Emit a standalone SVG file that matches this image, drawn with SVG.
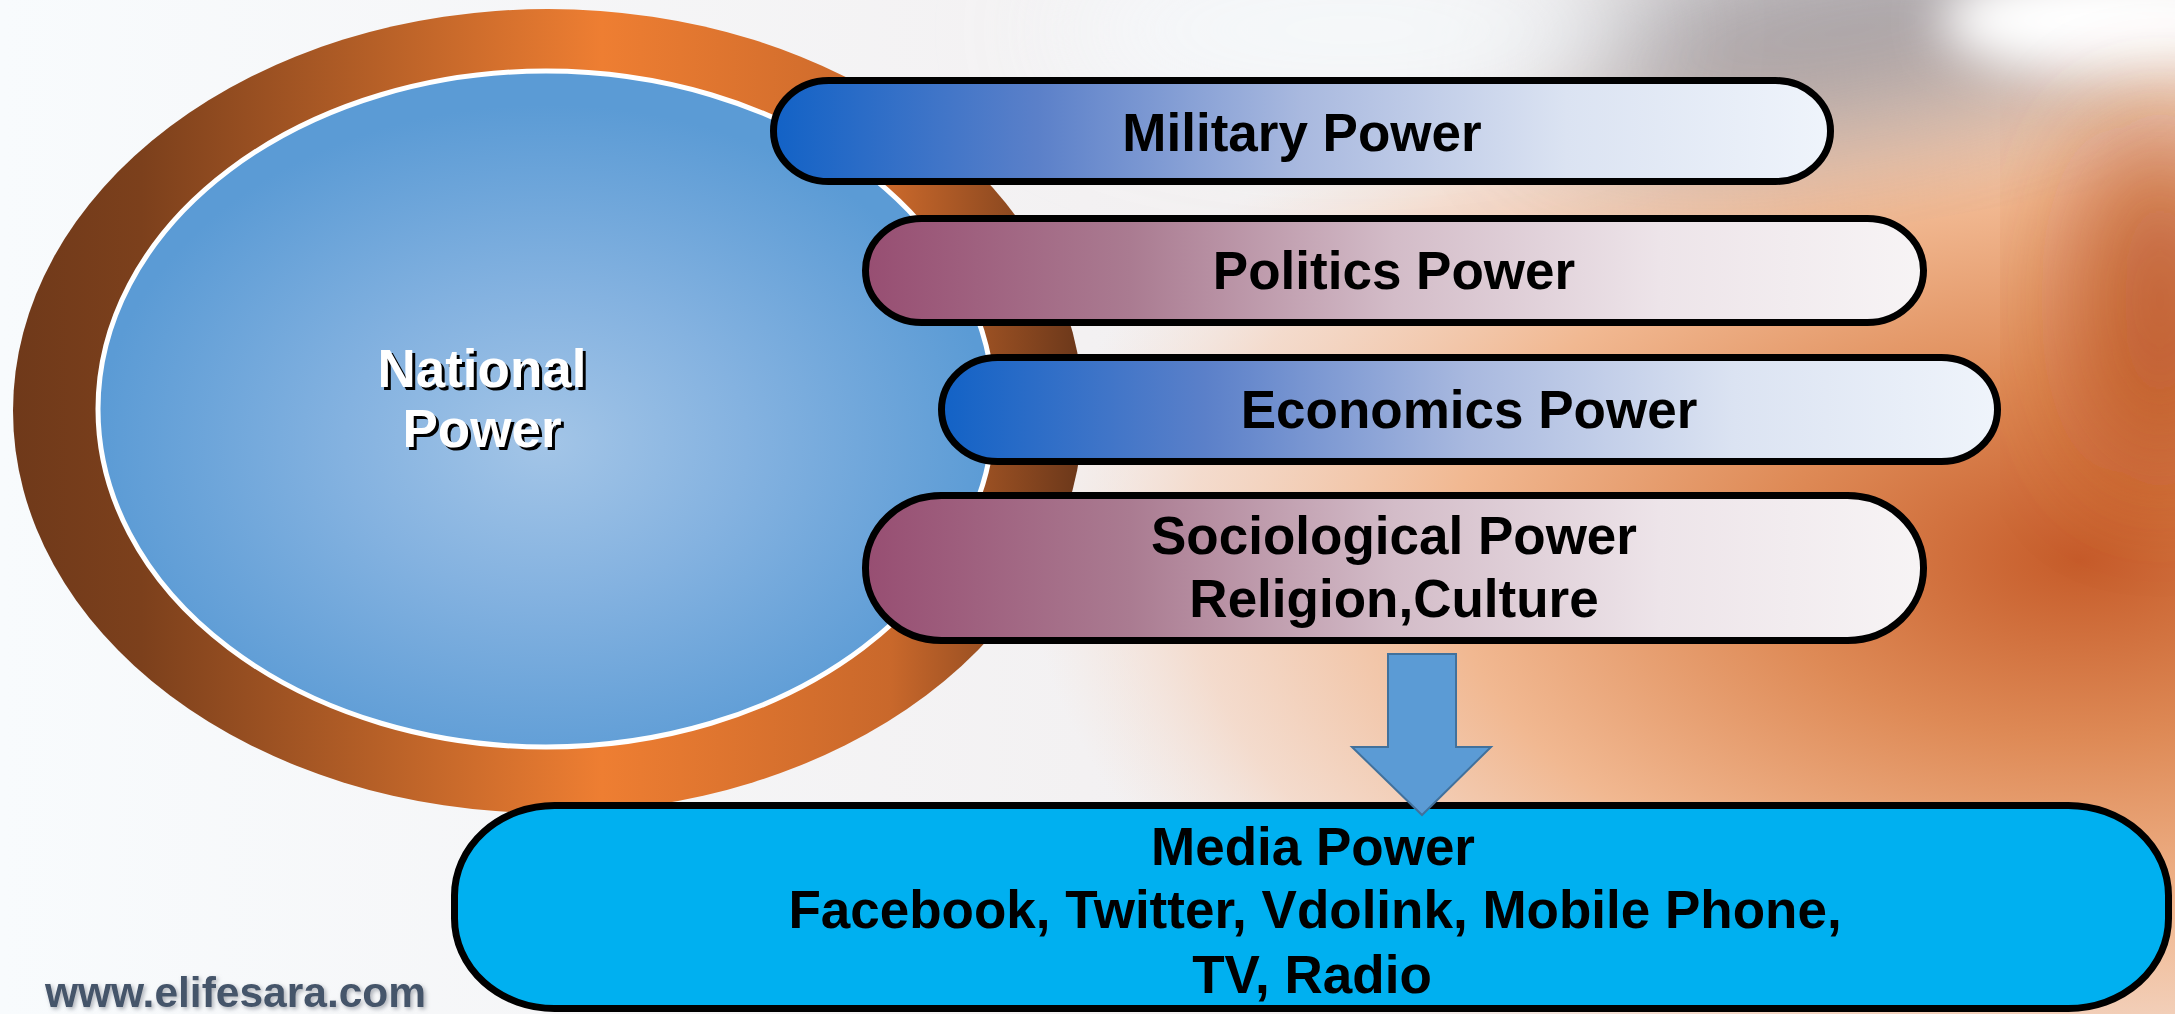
<svg xmlns="http://www.w3.org/2000/svg" width="2175" height="1014" viewBox="0 0 2175 1014">
  <defs>
    <style>
      .lbl { font-family: "Liberation Sans", Arial, sans-serif; font-weight: bold; font-size: 53px; fill: #000; text-anchor: middle; }
      .bar { stroke: #000; stroke-width: 7; }
      .nat { font-family: "Liberation Sans", Arial, sans-serif; font-weight: bold; font-size: 53px; text-anchor: middle; }
      .wm { font-family: "Liberation Sans", Arial, sans-serif; font-weight: bold; font-size: 42.5px; }
    </style>
    <linearGradient id="bgBase" x1="0" y1="0" x2="1" y2="0">
      <stop offset="0" stop-color="#f8fbfd"/>
      <stop offset="0.5" stop-color="#f3f1f2"/>
      <stop offset="1" stop-color="#ebe4e2"/>
    </linearGradient>
    <radialGradient id="orangeRad" cx="0.5" cy="0.5" r="0.5">
      <stop offset="0" stop-color="#c65c2a"/>
      <stop offset="0.3" stop-color="#de8a56"/>
      <stop offset="0.6" stop-color="#f1b891"/>
      <stop offset="0.85" stop-color="#f4d6c4" stop-opacity="0.8"/>
      <stop offset="1" stop-color="#f4e0d6" stop-opacity="0"/>
    </radialGradient>
    <filter id="blur60" x="-50%" y="-50%" width="200%" height="200%">
      <feGaussianBlur stdDeviation="60"/>
    </filter>
    <filter id="blur25" x="-50%" y="-50%" width="200%" height="200%">
      <feGaussianBlur stdDeviation="25"/>
    </filter>
    <linearGradient id="ringGrad" x1="0" y1="0" x2="1" y2="0">
      <stop offset="0" stop-color="#6f391a"/>
      <stop offset="0.12" stop-color="#7c401c"/>
      <stop offset="0.55" stop-color="#ee7e32"/>
      <stop offset="0.82" stop-color="#c9682b"/>
      <stop offset="1" stop-color="#6a371a"/>
    </linearGradient>
    <radialGradient id="blueRad" cx="0.5" cy="0.55" r="0.5">
      <stop offset="0" stop-color="#a3c5e7"/>
      <stop offset="0.45" stop-color="#84b2e0"/>
      <stop offset="1" stop-color="#5b9bd5"/>
    </radialGradient>
    <linearGradient id="blueBar" x1="0" y1="0" x2="1" y2="0">
      <stop offset="0" stop-color="#1262c6"/>
      <stop offset="0.25" stop-color="#5b80c9"/>
      <stop offset="0.5" stop-color="#a9b9df"/>
      <stop offset="0.75" stop-color="#dbe3f2"/>
      <stop offset="1" stop-color="#eff4fb"/>
    </linearGradient>
    <linearGradient id="purpleBar" x1="0" y1="0" x2="1" y2="0">
      <stop offset="0" stop-color="#974e72"/>
      <stop offset="0.25" stop-color="#aa7b91"/>
      <stop offset="0.5" stop-color="#d3bcc8"/>
      <stop offset="0.75" stop-color="#ede4e9"/>
      <stop offset="1" stop-color="#f7f4f5"/>
    </linearGradient>
    <filter id="wmShadow" x="-10%" y="-30%" width="120%" height="160%">
      <feGaussianBlur in="SourceAlpha" stdDeviation="2"/>
      <feOffset dx="2" dy="2" result="b"/>
      <feFlood flood-color="#8a8f99" flood-opacity="0.7"/>
      <feComposite in2="b" operator="in"/>
      <feMerge><feMergeNode/><feMergeNode in="SourceGraphic"/></feMerge>
    </filter>
  </defs>

  <!-- background -->
  <g id="background">
    <rect width="2175" height="1014" fill="url(#bgBase)"/>
    <ellipse cx="2080" cy="560" rx="1050" ry="600" fill="url(#orangeRad)"/>
    <ellipse cx="1850" cy="30" rx="330" ry="100" fill="#928e94" opacity="0.75" filter="url(#blur60)" transform="rotate(-10 1850 30)"/>
    <ellipse cx="2100" cy="20" rx="160" ry="55" fill="#ffffff" filter="url(#blur25)"/>
    <ellipse cx="1350" cy="30" rx="300" ry="90" fill="#f6fafd" opacity="0.85" filter="url(#blur60)"/>
    <ellipse cx="2160" cy="300" rx="80" ry="180" fill="#b04418" opacity="0.75" filter="url(#blur60)"/>
  </g>

  <!-- National Power -->
  <g id="national-power">
    <ellipse cx="548" cy="411" rx="535" ry="402" fill="url(#ringGrad)"/>
    <ellipse cx="546" cy="409" rx="448" ry="338" fill="url(#blueRad)" stroke="#ffffff" stroke-width="5"/>
    <text class="nat" x="485" y="390" fill="#000">National</text>
    <text class="nat" x="485" y="450" fill="#000">Power</text>
    <text class="nat" x="482" y="387" fill="#fff">National</text>
    <text class="nat" x="482" y="447" fill="#fff">Power</text>
  </g>

  <g id="military-power">
    <rect class="bar" x="773.5" y="80.5" width="1057" height="101" rx="55" ry="50.5" fill="url(#blueBar)"/>
    <text class="lbl" x="1302" y="151">Military Power</text>
  </g>

  <g id="politics-power">
    <rect class="bar" x="865.5" y="218.5" width="1058" height="104" rx="56" ry="52" fill="url(#purpleBar)"/>
    <text class="lbl" x="1394" y="289">Politics Power</text>
  </g>

  <g id="economics-power">
    <rect class="bar" x="941.5" y="357.5" width="1056" height="104" rx="56" ry="52" fill="url(#blueBar)"/>
    <text class="lbl" x="1469" y="428">Economics Power</text>
  </g>

  <g id="sociological-power">
    <rect class="bar" x="865.5" y="495.5" width="1058" height="145" rx="76" ry="72" fill="url(#purpleBar)"/>
    <text class="lbl" x="1394" y="554">Sociological Power</text>
    <text class="lbl" x="1394" y="617">Religion,Culture</text>
  </g>

  <g id="media-power">
    <rect class="bar" x="454.5" y="805.5" width="1714" height="203" rx="100" ry="90" fill="#00b0f0"/>
    <text class="lbl" x="1313" y="865">Media Power</text>
    <text class="lbl" x="1315" y="928">Facebook, Twitter, Vdolink, Mobile Phone,</text>
    <text class="lbl" x="1312" y="993">TV, Radio</text>
  </g>

  <g id="connectors">
    <polygon points="1388,654 1456,654 1456,747 1491,747 1422,815 1352,747 1388,747" fill="#5b9bd5" stroke="#41719c" stroke-width="2"/>
  </g>

  <g id="watermark">
    <text class="wm" x="45" y="1007" fill="#44546a" filter="url(#wmShadow)">www.elifesara.com</text>
  </g>
</svg>
